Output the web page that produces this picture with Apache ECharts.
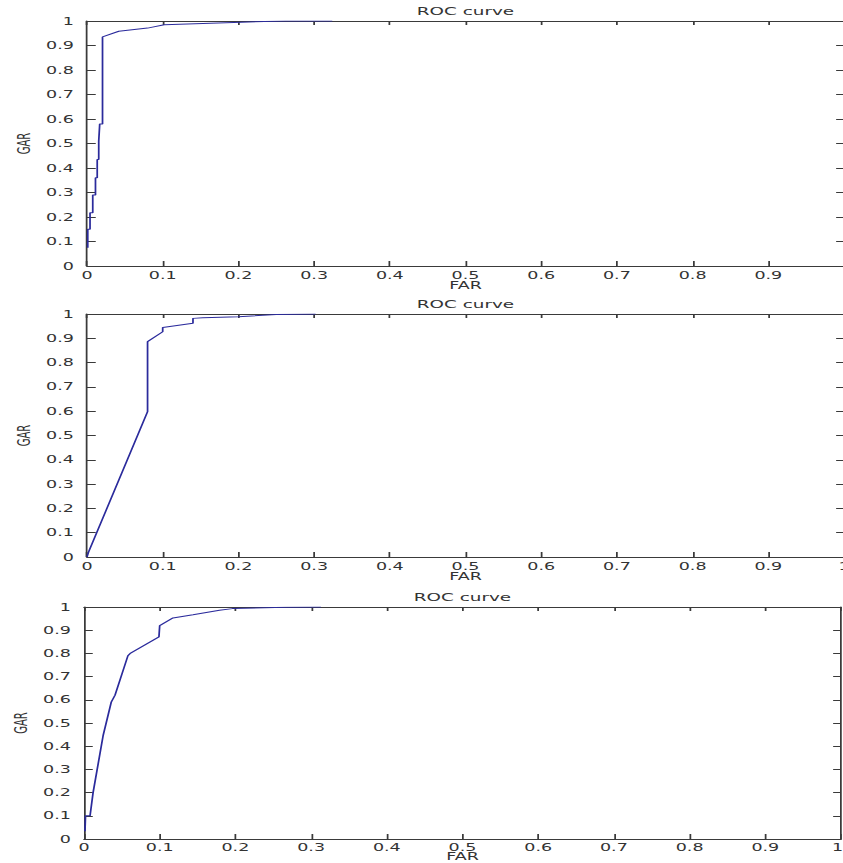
<!DOCTYPE html>
<html><head><meta charset="utf-8">
<script src="https://cdn.jsdelivr.net/npm/echarts@6/dist/echarts.min.js"></script>
<style>
html,body{margin:0;padding:0;background:#fff;overflow:hidden;}
#wrap{width:843px;height:863px;overflow:hidden;position:relative;background:#fff;}
#chart{width:482px;height:863px;transform:scaleX(1.75);transform-origin:0 0;}
</style></head><body><div id="wrap"><div id="chart"></div></div>
<script>
// ---- data ----
const titles = ['ROC curve', 'ROC curve', 'ROC curve'];
const xName = 'FAR';
const yName = 'GAR';

const roc1FAR = [0.001, 0.001, 0.004, 0.004, 0.0076, 0.0076, 0.0112, 0.0112, 0.0135, 0.0135, 0.0155, 0.0155, 0.0168, 0.0168, 0.0185, 0.0185, 0.0205, 0.0205, 0.042, 0.08, 0.102, 0.204, 0.262, 0.324];
const roc1GAR = [0.075, 0.15, 0.15, 0.217, 0.217, 0.29, 0.29, 0.36, 0.36, 0.435, 0.435, 0.51, 0.51, 0.58, 0.58, 0.58, 0.58, 0.935, 0.958, 0.971, 0.985, 0.995, 1.0, 1.0];

const roc2FAR = [0.0, 0.002, 0.08, 0.08, 0.1, 0.1, 0.14, 0.14, 0.153, 0.2, 0.25, 0.302];
const roc2GAR = [0.0, 0.02, 0.598, 0.886, 0.927, 0.944, 0.962, 0.982, 0.985, 0.989, 0.998, 1.0];

const roc3FAR = [0.0013, 0.002, 0.002, 0.008, 0.012, 0.013, 0.0254, 0.036, 0.041, 0.058, 0.061, 0.099, 0.1, 0.1175, 0.144, 0.179, 0.196, 0.267, 0.313];
const roc3GAR = [0.033, 0.033, 0.1, 0.1, 0.2, 0.2, 0.448, 0.59, 0.62, 0.79, 0.80, 0.871, 0.92, 0.953, 0.967, 0.986, 0.993, 0.999, 1.0];

const curves = [[roc1FAR, roc1GAR], [roc2FAR, roc2GAR], [roc3FAR, roc3GAR]];

// ---- layout (page px; chart is horizontally stretched by SX) ----
const SX = 1.75;
const grids = [
  {left: 87, top: 21, width: 757, height: 245, showMax: false, nameGap: 15, labelMargin: 4, padMax: 0},
  {left: 87, top: 314, width: 757, height: 243, showMax: true, nameGap: 14.5, labelMargin: 4, padMax: 0},
  {left: 84, top: 607, width: 757, height: 232, showMax: true, nameGap: 13, labelMargin: 3, padMax: 4}
];

const axisCol = '#3a3a3a';
const textCol = '#333';
const lineCol = '#2b2b9c';
const tickFont = {fontFamily: 'DejaVu Sans', fontSize: 10, color: textCol};

const option = {
  animation: false,
  backgroundColor: '#fff',
  grid: [], xAxis: [], yAxis: [], series: []
};

grids.forEach((g, i) => {
  option.grid.push({left: g.left / SX, top: g.top, width: g.width / SX, height: g.height,
    containLabel: false, outerBoundsMode: 'none'});
  const base = {
    type: 'value', min: 0, max: 1, interval: 0.1, gridIndex: i,
    splitLine: {show: false},
    nameMoveOverlap: false,
    axisLine: {show: true, onZero: false, lineStyle: {color: axisCol, width: 1}}
  };
  const xLabel = Object.assign({margin: g.labelMargin, lineHeight: 10, showMaxLabel: g.showMax, showMinLabel: true}, tickFont);
  if (g.padMax) {
    xLabel.formatter = function (v) {
      const s = echarts.format.addCommas(+v.toFixed(1));
      return v >= 1 ? '{m|' + s + '}' : s;
    };
    xLabel.rich = {m: Object.assign({padding: [0, g.padMax, 0, 0], lineHeight: 10}, tickFont)};
  }
  option.xAxis.push(Object.assign({}, base, {
    position: 'bottom',
    name: xName, nameLocation: 'middle', nameGap: g.nameGap,
    nameTextStyle: {fontFamily: 'DejaVu Sans', fontSize: 10, lineHeight: 9, color: textCol},
    axisTick: {show: true, inside: true, length: 5, lineStyle: {color: axisCol}},
    axisLabel: xLabel
  }));
  option.xAxis.push(Object.assign({}, base, {
    position: 'top',
    name: titles[i], nameLocation: 'middle', nameGap: 4,
    nameTextStyle: {fontFamily: 'DejaVu Sans', fontSize: 10.5, color: textCol},
    axisTick: {show: true, inside: true, length: 4, lineStyle: {color: axisCol}},
    axisLabel: {show: false}
  }));
  option.yAxis.push(Object.assign({}, base, {
    position: 'left',
    name: yName, nameLocation: 'middle', nameGap: 31,
    nameTextStyle: {fontFamily: 'DejaVu Sans', fontSize: 10, color: textCol},
    axisTick: {show: true, inside: true, length: 5, lineStyle: {color: axisCol}},
    axisLabel: Object.assign({margin: 7.5}, tickFont)
  }));
  option.yAxis.push(Object.assign({}, base, {
    position: 'right',
    axisTick: {show: true, inside: true, length: 4.5, lineStyle: {color: axisCol}},
    axisLabel: {show: false}
  }));
  const xs = curves[i][0], ys = curves[i][1];
  option.series.push({
    type: 'line',
    xAxisIndex: 2 * i, yAxisIndex: 2 * i,
    data: xs.map((x, k) => [x, ys[k]]),
    showSymbol: false, symbol: 'none',
    lineStyle: {color: lineCol, width: 1},
    itemStyle: {color: lineCol},
    silent: true
  });
});

const chart = echarts.init(document.getElementById('chart'), null, {renderer: 'svg'});
chart.setOption(option);
</script>
</body></html>
